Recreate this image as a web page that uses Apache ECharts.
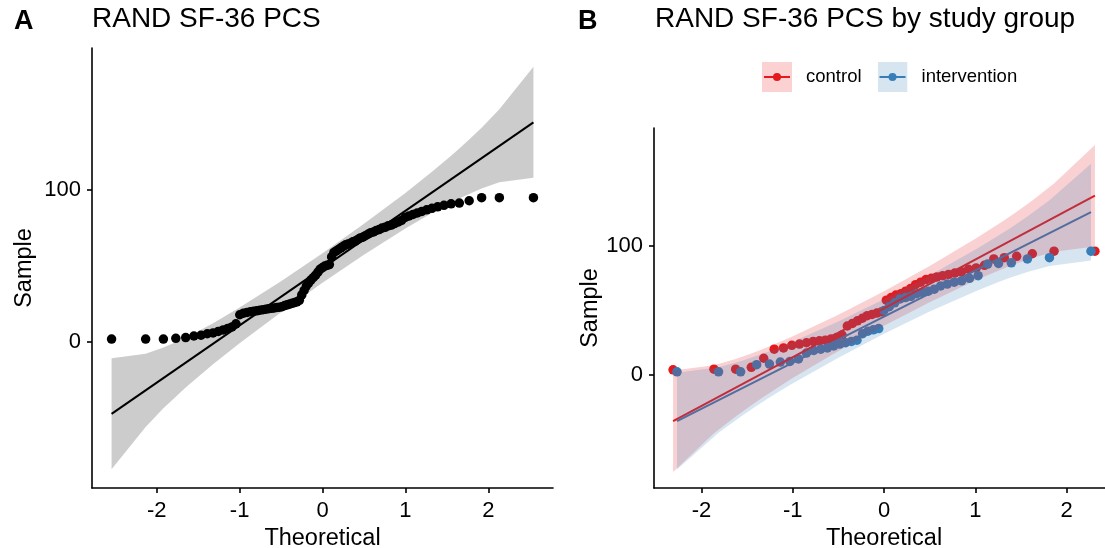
<!DOCTYPE html>
<html><head><meta charset="utf-8">
<script src="https://cdn.jsdelivr.net/npm/echarts@6/dist/echarts.min.js"></script>
<style>html,body{margin:0;padding:0;background:#fff}#c{width:1105px;height:548px}</style>
</head><body><div id="c"></div>
<script>
// ---- data ----
const xTicks = [-2, -1, 0, 1, 2];
const yTicks = [0, 100];

// Panel A: all participants (theoretical quantile, sample value)
const theoAll = [-2.544,-2.133,-1.919,-1.769,-1.650,-1.551,-1.465,-1.389,-1.320,-1.257,-1.198,-1.143,-1.092,-1.044,-0.998,-0.953,-0.910,-0.869,-0.830,-0.792,-0.755,-0.718,-0.683,-0.649,-0.615,-0.582,-0.550,-0.518,-0.487,-0.456,-0.426,-0.396,-0.366,-0.337,-0.308,-0.279,-0.250,-0.222,-0.194,-0.166,-0.138,-0.110,-0.083,-0.055,-0.028,0,
  0.028,0.055,0.083,0.110,0.138,0.166,0.194,0.222,0.250,0.279,0.308,0.337,0.366,0.396,0.426,0.456,0.487,0.518,0.550,0.582,0.615,0.649,0.683,0.718,0.755,0.792,0.830,0.869,0.910,0.953,0.998,1.044,1.092,1.143,1.198,1.257,1.320,1.389,1.465,1.551,1.650,1.769,1.919,2.133,2.544];
const sampleAll = [2,2,2,2.5,3,4,4.5,5.5,6,7,8,9,10,12,18,19,19.5,20,20.3,20.6,21,21.3,21.6,22,22.2,22.5,22.8,23,23.3,24,24.5,25,25.5,26,26.5,27.5,31,34,37,39,41,42.5,44,46,48,49,
  50,50.5,51,56,59,60,61,62,63,64,64.5,65,66,66.5,67.5,68.5,69,70,71,72,72.5,73.5,74,75,75.5,76.5,77,78,79,80,82,83,84,85,86,87,88,89,90,91,91.5,93,95,95,95];
const lineXAll = [-2.544, 2.544];
const lineYAll = [-47.2, 144.6];
const bandXAll = [-2.544,-2.133,-1.919,-1.769,-1.65,-1.551,-1.32,-1,-0.5,0,0.5,1,1.32,1.551,1.65,1.769,1.919,2.133,2.544];
const bandHiAll = [-10.7,-7.6,-3.6,-0.1,2.9,5.6,12.4,22.7,40.0,58.4,77.8,98.1,112.0,122.6,127.3,133.3,141.0,153.2,181.1];
const bandLoAll = [-83.7,-55.8,-43.6,-35.9,-29.9,-25.2,-14.6,-0.7,19.7,39.0,57.4,74.7,85.0,91.8,94.5,97.5,101.0,105.1,108.1];

// Panel B: control
const theoCtrl = [-2.311,-1.863,-1.625,-1.454,-1.318,-1.203,-1.101,-1.010,-0.926,-0.849,-0.776,-0.708,-0.643,-0.579,-0.519,-0.460,-0.402,-0.346,-0.291,-0.237,-0.184,-0.131,-0.078,-0.026,
  0.026,0.078,0.131,0.184,0.237,0.291,0.346,0.402,0.460,0.519,0.579,0.643,0.708,0.776,0.849,0.926,1.010,1.101,1.203,1.318,1.454,1.625,1.863,2.311];
const sampleCtrl = [4,4.5,4.5,6,13,20,21,23,24,25,26,26.5,27,28,29,31,38,40,42,44,46,47,48,49,
  58,60,62,63,65,67,70,72,74,75,76,77,78,79,80,82,83,85,90,91,92,94,96,96];
const lineXCtrl = [-2.311, 2.311];
const lineYCtrl = [-35.8, 139.0];
const bandXCtrl = [-2.311,-1.863,-1.625,-1.454,-1.318,-1.010,-0.5,0,0.5,1.010,1.318,1.454,1.625,1.863,2.311];
const bandHiCtrl = [3.5,7.6,12.5,16.7,20.4,29.6,46.7,65.0,84.5,106.0,120.0,126.6,135.3,148.4,178.3];
const bandLoCtrl = [-75.1,-45.2,-32.1,-23.4,-16.8,-2.8,18.7,38.2,56.5,73.6,82.8,86.5,90.7,95.6,99.7];

// Panel B: intervention
const theoInt = [-2.268,-1.813,-1.571,-1.395,-1.255,-1.136,-1.031,-0.937,-0.850,-0.769,-0.693,-0.620,-0.551,-0.485,-0.420,-0.357,-0.296,-0.235,-0.176,-0.117,-0.058,0,
  0.058,0.117,0.176,0.235,0.296,0.357,0.420,0.485,0.551,0.620,0.693,0.769,0.850,0.937,1.031,1.136,1.255,1.395,1.571,1.813,2.268];
const sampleInt = [2.5,2.5,2.5,8,8.5,10,10.5,12.5,17,19,20,21,22.5,24,25,26,27,32,34,35,36,50,
  53,56,59,60,61,63,64,65,66.5,69,70.5,72,73,75,77,86,86.5,87,90,91,96];
const lineXInt = [-2.268, 2.268];
const lineYInt = [-35.7, 126.3];
const bandXInt = [-2.268,-1.813,-1.571,-1.395,-1.255,-1.031,-0.5,0,0.5,1.031,1.255,1.395,1.571,1.813,2.268];
const bandHiInt = [1.8,6.0,10.7,14.85,18.5,24.8,41.45,58.7,77.15,98.4,108.1,114.45,122.9,135.4,163.8];
const bandLoInt = [-73.2,-44.8,-32.3,-23.85,-17.5,-7.8,13.45,31.9,49.15,65.8,72.1,75.75,79.9,84.6,88.8];

// ---- chart ----
const FONT = 'Liberation Sans, Arial, Helvetica, sans-serif';
const RED = '#E41A1C', BLUE = '#377EB8';
const zip = (a, b) => a.map((v, i) => [v, b[i]]);

function bandSeries(xi, yi, xs, lo, hi, fill) {
  return {
    type: 'custom', xAxisIndex: xi, yAxisIndex: yi, z: 3, silent: true,
    data: [[xs[0], lo[0]]],
    renderItem: function (params, api) {
      const pts = [];
      for (let i = 0; i < xs.length; i++) pts.push(api.coord([xs[i], hi[i]]));
      for (let i = xs.length - 1; i >= 0; i--) pts.push(api.coord([xs[i], lo[i]]));
      return { type: 'polygon', shape: { points: pts }, style: { fill: fill } };
    }
  };
}
function xAx(g, min, max) {
  return {
    type: 'value', gridIndex: g, min: min, max: max,
    name: 'Theoretical', nameLocation: 'middle', nameGap: 37,
    nameTextStyle: { fontSize: 23.5, color: '#000', fontFamily: FONT },
    axisLine: { onZero: false, lineStyle: { color: '#000', width: 1.6 } },
    axisTick: { show: true, length: 5, customValues: xTicks, lineStyle: { color: '#000', width: 1.6 } },
    axisLabel: { customValues: xTicks, fontSize: 22, color: '#000', margin: 12, fontFamily: FONT },
    splitLine: { show: false }
  };
}
function yAx(g, min, max, gap) {
  return {
    type: 'value', gridIndex: g, min: min, max: max,
    name: 'Sample', nameLocation: 'middle', nameGap: gap, nameRotate: 90,
    nameTextStyle: { fontSize: 23.5, color: '#000', fontFamily: FONT },
    axisLine: { show: true, onZero: false, lineStyle: { color: '#000', width: 1.6 } },
    axisTick: { show: true, length: 5, customValues: yTicks, lineStyle: { color: '#000', width: 1.6 } },
    axisLabel: { customValues: yTicks, fontSize: 22, color: '#000', margin: 11, fontFamily: FONT },
    splitLine: { show: false }
  };
}
function keyIcon(bg, col) {
  const svg = '<svg xmlns="http://www.w3.org/2000/svg" width="30" height="30">' +
    '<rect width="30" height="30" fill="' + bg + '"/>' +
    '<line x1="2" y1="15" x2="28" y2="15" stroke="' + col + '" stroke-width="2"/>' +
    '<circle cx="15" cy="15" r="4" fill="' + col + '"/></svg>';
  return 'image://data:image/svg+xml;charset=utf-8,' + encodeURIComponent(svg);
}

const chart = echarts.init(document.getElementById('c'), null, { renderer: 'canvas' });
chart.setOption({
  animation: false,
  backgroundColor: '#fff',
  textStyle: { fontFamily: FONT },
  title: [
    { text: 'A', left: 14, top: 8, padding: 0, textStyle: { fontSize: 27, fontWeight: 'bold', color: '#000', fontFamily: FONT } },
    { text: 'RAND SF-36 PCS', left: 92, top: 5, padding: 0, textStyle: { fontSize: 28, fontWeight: 'normal', color: '#000', fontFamily: FONT } },
    { text: 'B', left: 578, top: 8, padding: 0, textStyle: { fontSize: 27, fontWeight: 'bold', color: '#000', fontFamily: FONT } },
    { text: 'RAND SF-36 PCS by study group', left: 655, top: 5, padding: 0, textStyle: { fontSize: 28, fontWeight: 'normal', color: '#000', fontFamily: FONT } }
  ],
  legend: {
    left: 762, top: 62, padding: 0, itemGap: 16, itemWidth: 30, itemHeight: 30,
    selectedMode: false,
    textStyle: { fontSize: 18.5, color: '#000', fontFamily: FONT, padding: [0, 0, 0, 9] },
    data: [
      { name: 'control', icon: keyIcon('#FBD1D2', RED) },
      { name: 'intervention', icon: keyIcon('#D7E5F1', BLUE) }
    ]
  },
  grid: [
    { left: 92, right: 552, top: 48, bottom: 60, containLabel: false, outerBoundsMode: 'none' },
    { left: 654, right: -9, top: 128, bottom: 60, containLabel: false, outerBoundsMode: 'none' }
  ],
  xAxis: [xAx(0, -2.78, 2.78), xAx(1, -2.52, 2.52)],
  yAxis: [yAx(0, -96, 193.5, 55), yAx(1, -87.6, 191.5, 50)],
  series: [
    { type: 'scatter', name: 'all', xAxisIndex: 0, yAxisIndex: 0, z: 1, symbolSize: 9.5,
      itemStyle: { color: '#000', opacity: 1 }, data: zip(theoAll, sampleAll) },
    { type: 'line', xAxisIndex: 0, yAxisIndex: 0, z: 2, showSymbol: false, silent: true,
      lineStyle: { color: '#000', width: 2 }, data: zip(lineXAll, lineYAll) },
    bandSeries(0, 0, bandXAll, bandLoAll, bandHiAll, 'rgba(0,0,0,0.2)'),

    { type: 'scatter', name: 'control', xAxisIndex: 1, yAxisIndex: 1, z: 1, symbolSize: 9.5,
      itemStyle: { color: RED, opacity: 1 }, data: zip(theoCtrl, sampleCtrl) },
    { type: 'scatter', name: 'intervention', xAxisIndex: 1, yAxisIndex: 1, z: 1, symbolSize: 9.5,
      itemStyle: { color: BLUE, opacity: 1 }, data: zip(theoInt, sampleInt) },
    { type: 'line', xAxisIndex: 1, yAxisIndex: 1, z: 2, showSymbol: false, silent: true,
      lineStyle: { color: RED, width: 2 }, data: zip(lineXCtrl, lineYCtrl) },
    { type: 'line', xAxisIndex: 1, yAxisIndex: 1, z: 2, showSymbol: false, silent: true,
      lineStyle: { color: BLUE, width: 2 }, data: zip(lineXInt, lineYInt) },
    bandSeries(1, 1, bandXCtrl, bandLoCtrl, bandHiCtrl, 'rgba(228,26,28,0.2)'),
    bandSeries(1, 1, bandXInt, bandLoInt, bandHiInt, 'rgba(55,126,184,0.2)')
  ]
});
</script></body></html>
